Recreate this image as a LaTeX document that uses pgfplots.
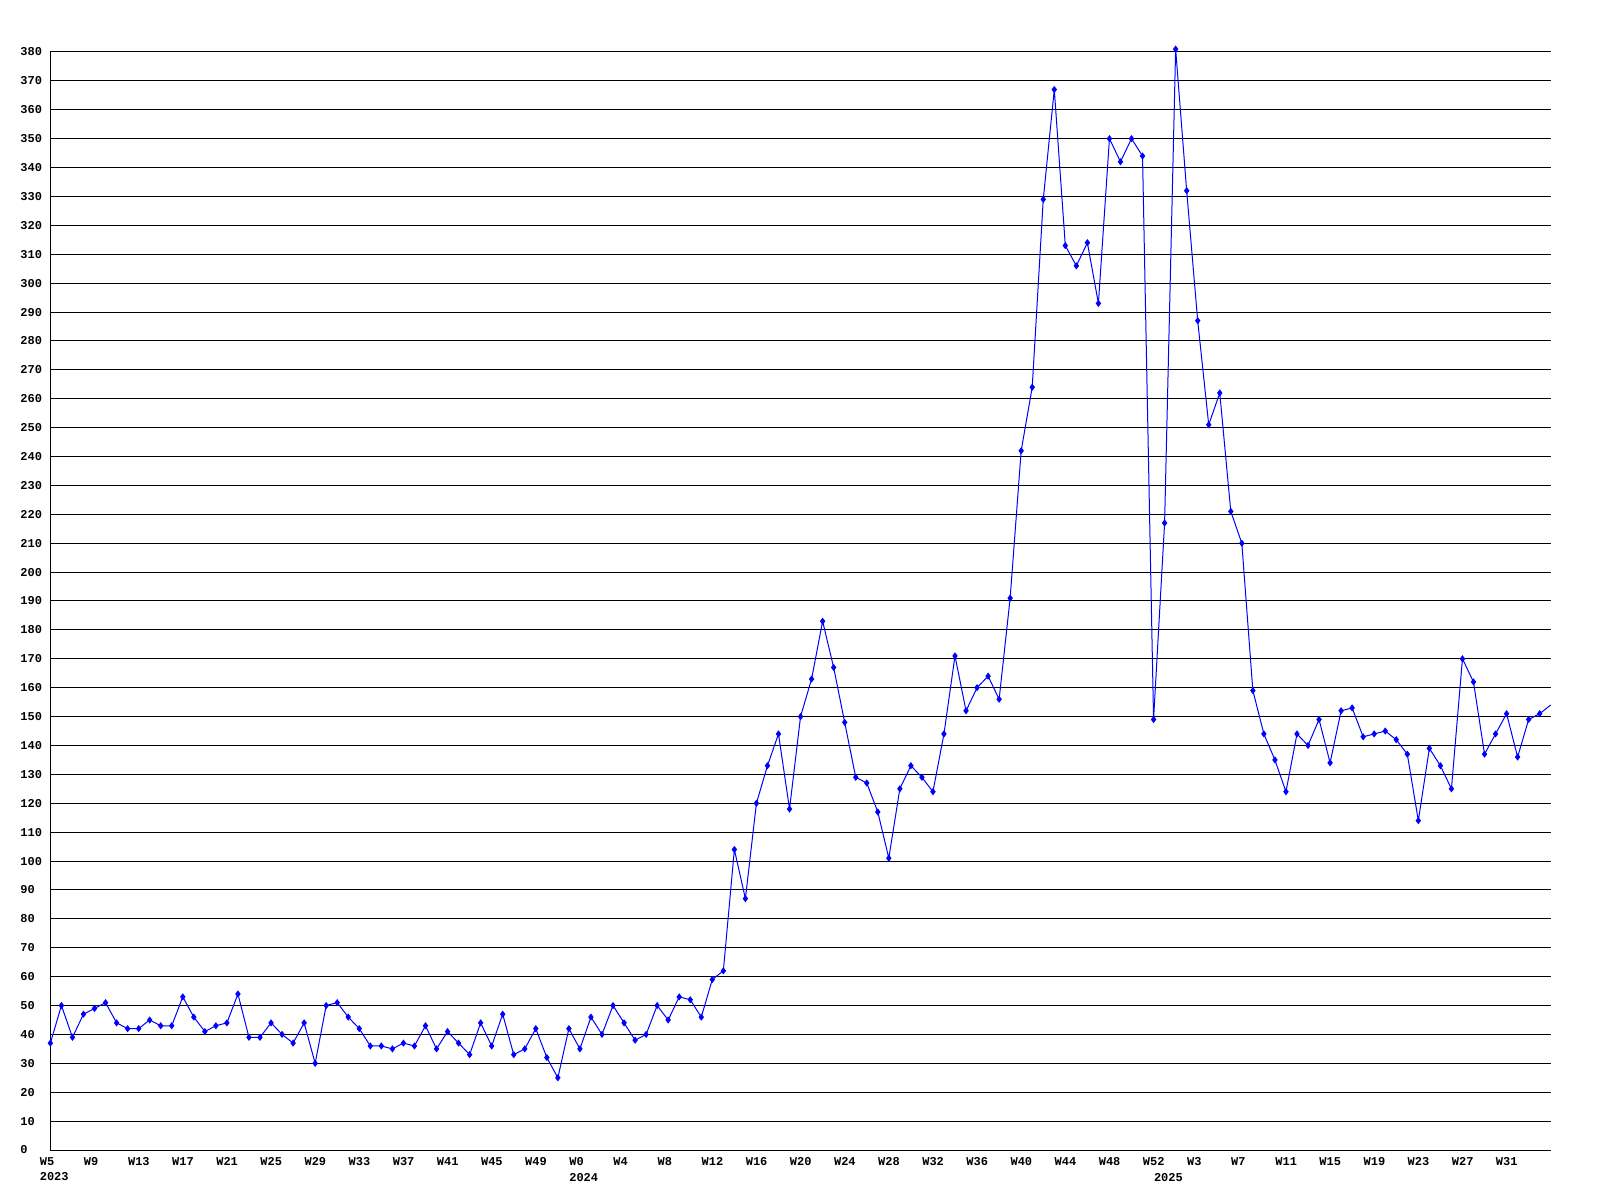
\documentclass[border=0pt]{standalone}
\usepackage{pgfplots}
\pgfplotsset{compat=1.18}
\usepackage{fontspec}
\setmainfont{Liberation Mono}
\begin{document}
\begin{tikzpicture}
\path[use as bounding box] (-25.2pt,-25pt) rectangle (774.8pt,575pt);
\begin{axis}[
  at={(0,0)}, anchor=south west,
  scale only axis, width=750.15pt, height=549pt,
  xmin=0, xmax=136, ymin=0, ymax=380,
  axis x line=bottom, axis y line=left,
  axis line style={-, black, line width=0.5pt},
  ytick={0,10,...,380},
  ymajorgrids, grid style={black, line width=0.5pt},
  xtick={0,4,...,132},
  xticklabels={{W5\\2023},W9,W13,W17,W21,W25,W29,W33,W37,W41,W45,W49,{W0\\2024},W4,W8,W12,W16,W20,W24,W28,W32,W36,W40,W44,W48,W52,W3,W7,W11,W15,W19,W23,W27,W31},
  extra x ticks={101},
  extra x tick labels={2025},
  extra x tick style={xticklabel style={yshift=-7.8pt}},
  major tick length=0pt,
  tick label style={font=\fontsize{6}{7.8}\selectfont\bfseries},
  xticklabel style={anchor=north west, align=left, inner sep=0pt, xshift=-5.5pt, yshift=-3.5pt},
  yticklabel style={anchor=west, inner sep=0pt, xshift=-15.2pt},
  /pgf/number format/assume math mode=true,
  clip=false,
]
\addplot[color={rgb,255:red,0;green,0;blue,255}, line width=0.5pt, mark=diamond*, mark size=1.4pt] coordinates {
(0,37) (1,50) (2,39) (3,47) (4,49) (5,51) (6,44) (7,42) (8,42) (9,45)
(10,43) (11,43) (12,53) (13,46) (14,41) (15,43) (16,44) (17,54) (18,39) (19,39)
(20,44) (21,40) (22,37) (23,44) (24,30) (25,50) (26,51) (27,46) (28,42) (29,36)
(30,36) (31,35) (32,37) (33,36) (34,43) (35,35) (36,41) (37,37) (38,33) (39,44)
(40,36) (41,47) (42,33) (43,35) (44,42) (45,32) (46,25) (47,42) (48,35) (49,46)
(50,40) (51,50) (52,44) (53,38) (54,40) (55,50) (56,45) (57,53) (58,52) (59,46)
(60,59) (61,62) (62,104) (63,87) (64,120) (65,133) (66,144) (67,118) (68,150) (69,163)
(70,183) (71,167) (72,148) (73,129) (74,127) (75,117) (76,101) (77,125) (78,133) (79,129)
(80,124) (81,144) (82,171) (83,152) (84,160) (85,164) (86,156) (87,191) (88,242) (89,264)
(90,329) (91,367) (92,313) (93,306) (94,314) (95,293) (96,350) (97,342) (98,350) (99,344)
(100,149) (101,217) (102,381) (103,332) (104,287) (105,251) (106,262) (107,221) (108,210) (109,159)
(110,144) (111,135) (112,124) (113,144) (114,140) (115,149) (116,134) (117,152) (118,153) (119,143)
(120,144) (121,145) (122,142) (123,137) (124,114) (125,139) (126,133) (127,125) (128,170) (129,162)
(130,137) (131,144) (132,151) (133,136) (134,149) (135,151)
};
\addplot[color={rgb,255:red,0;green,0;blue,255}, line width=0.5pt, no marks] coordinates {(135,151) (136,154)};
\end{axis}
\end{tikzpicture}
\end{document}
